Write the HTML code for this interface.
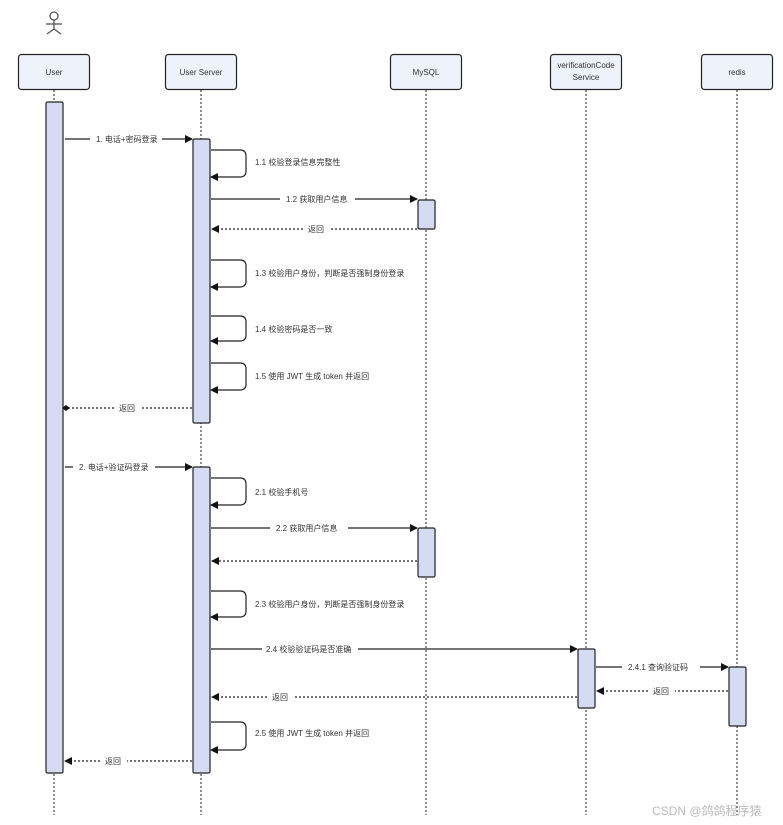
<!DOCTYPE html>
<html><head><meta charset="utf-8"><style>
html,body{margin:0;padding:0;background:#fff;}
svg{display:block;}
text{font-family:"Liberation Sans","Noto Sans CJK SC",sans-serif;font-size:8px;fill:#333;}
</style></head><body>
<svg width="783" height="825" viewBox="0 0 783 825" xmlns="http://www.w3.org/2000/svg">
<defs>
<marker id="a" markerWidth="8" markerHeight="8" refX="7" refY="4" orient="auto" markerUnits="userSpaceOnUse"><path d="M0,0 L8,4 L0,8 z" fill="#111"/></marker>
<marker id="d" markerWidth="8" markerHeight="8" refX="4" refY="4" orient="auto" markerUnits="userSpaceOnUse"><path d="M0,4 L4,1 L8,4 L4,7 z" fill="#111"/></marker>
</defs>
<!-- actor -->
<g stroke="#555" stroke-width="1.3" fill="none">
<circle cx="54" cy="16" r="4"/>
<line x1="54" y1="20" x2="54" y2="29"/><line x1="46" y1="24" x2="62" y2="24"/>
<line x1="54" y1="29" x2="47" y2="34"/><line x1="54" y1="29" x2="61" y2="34"/>
</g>
<!-- lifelines -->
<g stroke="#444" stroke-width="1.2" stroke-dasharray="2,2">
<line x1="54" y1="90" x2="54" y2="815"/>
<line x1="201" y1="90" x2="201" y2="815"/>
<line x1="426" y1="90" x2="426" y2="815"/>
<line x1="586" y1="90" x2="586" y2="815"/>
<line x1="737" y1="90" x2="737" y2="815"/>
</g>
<!-- boxes -->
<g fill="#eef2fb" stroke="#222" stroke-width="1.2">
<rect x="18.5" y="54.5" width="71" height="35" rx="3"/>
<rect x="165.5" y="54.5" width="71" height="35" rx="3"/>
<rect x="390.5" y="54.5" width="71" height="35" rx="3"/>
<rect x="550.5" y="54.5" width="71" height="35" rx="3"/>
<rect x="701.5" y="54.5" width="71" height="35" rx="3"/>
</g>
<g text-anchor="middle">
<text x="54" y="75">User</text>
<text x="201" y="75">User Server</text>
<text x="426" y="75">MySQL</text>
<text x="586" y="68">verificationCode</text>
<text x="586" y="80">Service</text>
<text x="737" y="75">redis</text>
</g>
<!-- activations -->
<g fill="#d5dbf3" stroke="#222" stroke-width="1.2">
<rect x="46" y="102" width="17" height="671" rx="1.5"/>
<rect x="193" y="139" width="17" height="284" rx="1.5"/>
<rect x="193" y="467" width="17" height="306" rx="1.5"/>
<rect x="418" y="200" width="17" height="29" rx="1.5"/>
<rect x="418" y="528" width="17" height="49" rx="1.5"/>
<rect x="578" y="649" width="17" height="59" rx="1.5"/>
<rect x="729" y="667" width="17" height="59" rx="1.5"/>
</g>
<!-- solid messages -->
<g stroke="#222" stroke-width="1.2" fill="none" marker-end="url(#a)">
<path d="M65,139 H90 M162,139 H192"/>
<path d="M211,199 H280 M355,199 H417"/>
<path d="M65,467 H73 M155,467 H192"/>
<path d="M211,528 H270 M348,528 H417"/>
<path d="M211,649 H262 M358,649 H577"/>
<path d="M596,667 H622 M700,667 H728"/>
<path d="M211,150 H240 Q246,150 246,156 V171 Q246,177 240,177 H211"/>
<path d="M211,260 H240 Q246,260 246,266 V281 Q246,287 240,287 H211"/>
<path d="M211,316 H240 Q246,316 246,322 V335 Q246,341 240,341 H211"/>
<path d="M211,363 H240 Q246,363 246,369 V384 Q246,390 240,390 H211"/>
<path d="M211,478 H240 Q246,478 246,484 V499 Q246,505 240,505 H211"/>
<path d="M211,591 H240 Q246,591 246,597 V611 Q246,617 240,617 H211"/>
<path d="M211,722 H240 Q246,722 246,728 V744 Q246,750 240,750 H211"/>
</g>
<!-- dashed -->
<g stroke="#222" stroke-width="1.2" fill="none" stroke-dasharray="2,2" marker-end="url(#a)">
<path d="M417,229 H330 M303,229 H212"/>
<path d="M192,408 H140 M114,408 H66" marker-end="url(#d)"/>
<path d="M417,561 H212"/>
<path d="M728,691 H675 M648,691 H597"/>
<path d="M577,697 H295 M267,697 H212"/>
<path d="M192,761 H127 M100,761 H65"/>
</g>
<!-- labels -->
<g>
<text x="96" y="142">1. 电话+密码登录</text>
<text x="255" y="165">1.1 校验登录信息完整性</text>
<text x="286" y="202">1.2 获取用户信息</text>
<text x="308" y="232">返回</text>
<text x="255" y="276">1.3 校验用户身份，判断是否强制身份登录</text>
<text x="255" y="332">1.4 校验密码是否一致</text>
<text x="255" y="379">1.5 使用 JWT 生成 token 并返回</text>
<text x="119" y="411">返回</text>
<text x="79" y="470">2. 电话+验证码登录</text>
<text x="255" y="495">2.1 校验手机号</text>
<text x="276" y="531">2.2 获取用户信息</text>
<text x="255" y="607">2.3 校验用户身份，判断是否强制身份登录</text>
<text x="266" y="652">2.4 校验验证码是否准确</text>
<text x="628" y="670">2.4.1 查询验证码</text>
<text x="653" y="694">返回</text>
<text x="272" y="700">返回</text>
<text x="255" y="736">2.5 使用 JWT 生成 token 并返回</text>
<text x="105" y="764">返回</text>
</g>
<text x="652" y="815" style="font-size:12px;fill:#bbb">CSDN @鸽鸽程序猿</text>
</svg>
</body></html>
